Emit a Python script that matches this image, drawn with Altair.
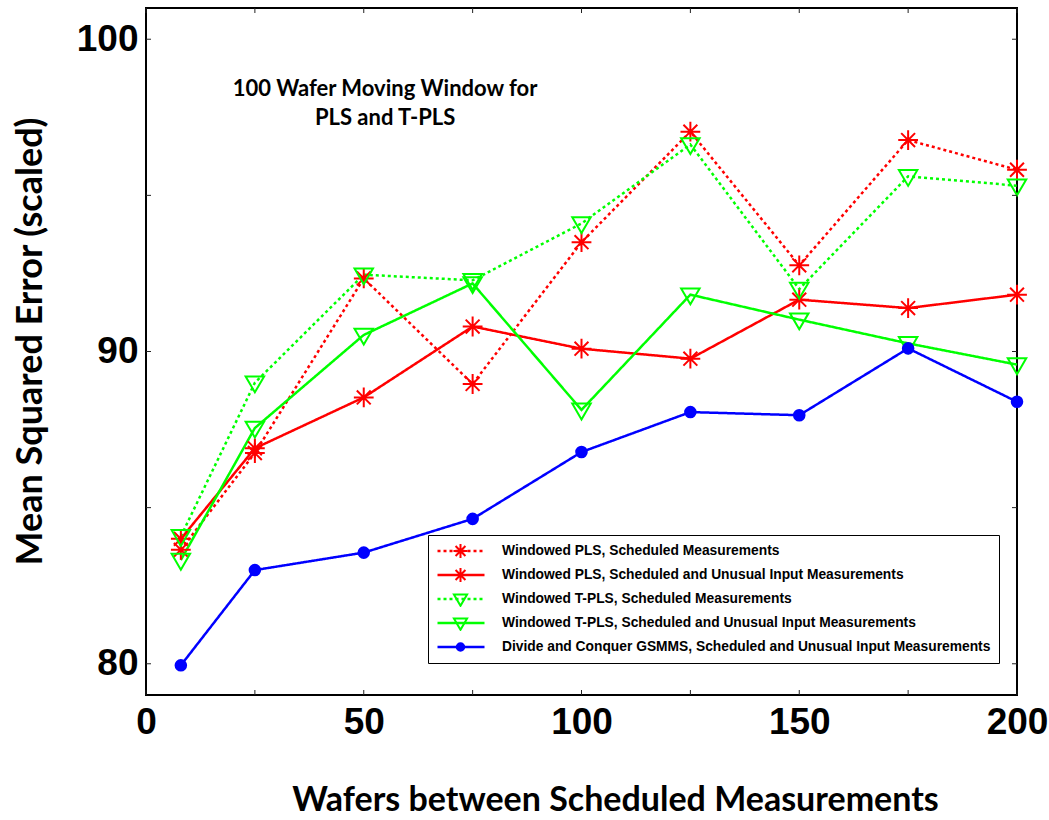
import altair as alt
import pandas as pd

# Wafers between scheduled measurements
wafers = [8, 25, 50, 75, 100, 125, 150, 175, 200]

# Scaled mean squared error for each method
pls_sched = [83.65, 86.75, 92.34, 88.96, 93.50, 97.04, 92.76, 96.77, 95.82]
pls_unusual = [84.00, 86.90, 88.53, 90.80, 90.09, 89.77, 91.66, 91.39, 91.82]
tpls_sched = [84.08, 89.00, 92.46, 92.28, 94.10, 96.63, 92.00, 95.61, 95.31]
tpls_unusual = [83.32, 87.55, 90.53, 92.18, 88.13, 91.82, 91.02, 90.26, 89.58]
gsmms = [79.95, 83.00, 83.56, 84.64, 86.78, 88.06, 87.96, 90.10, 88.39]

series_names = [
    "Windowed PLS, Scheduled Measurements",
    "Windowed PLS, Scheduled and Unusual Input Measurements",
    "Windowed T-PLS, Scheduled Measurements",
    "Windowed T-PLS, Scheduled and Unusual Input Measurements",
    "Divide and Conquer GSMMS, Scheduled and Unusual Input Measurements",
]
# short keys for the marker layer (its legend only supplies the glyphs)
marker_keys = ["pls_s", "pls_u", "tpls_s", "tpls_u", "gsmms"]
series_values = [pls_sched, pls_unusual, tpls_sched, tpls_unusual, gsmms]
series_colors = ["#FF0000", "#FF0000", "#00FF00", "#00FF00", "#0000FF"]
series_dashes = [[3, 3], [1, 0], [3, 3], [1, 0], [1, 0]]
series_fills = ["transparent", "transparent", "transparent", "transparent", "#0000FF"]

# marker glyphs (unit square path coordinates): asterisk, down triangle, dot
asterisk = ("M-0.3,0L0.3,0M0,-0.3L0,0.3"
            "M-0.21,-0.21L0.21,0.21M-0.21,0.21L0.21,-0.21")
tri_down = "M-0.28,-0.19L0.28,-0.19L0,0.29Z"
dot = "M-0.16,0A0.16,0.16,0,1,1,0.16,0A0.16,0.16,0,1,1,-0.16,0Z"
series_markers = [asterisk, asterisk, tri_down, tri_down, dot]

x_ticks = [0, 25, 50, 75, 100, 125, 150, 175, 200]
y_ticks = [80, 85, 90, 95, 100]
x_labels = [0, 50, 100, 150, 200]
y_labels = [80, 90, 100]

W, H = 871, 687
TICK = 5

rows = []
for name, key, vals in zip(series_names, marker_keys, series_values):
    for w, v in zip(wafers, vals):
        rows.append({"series": name, "marker": key, "wafers": w, "mse": v})
df = pd.DataFrame(rows)

x_scale = alt.Scale(domain=[0, 200], nice=False, zero=False)
y_scale = alt.Scale(domain=[79, 101], nice=False, zero=False)

TITLE_FONT = "Lato"
LABEL_FONT = "Liberation Sans"

x_axis = alt.Axis(
    values=x_labels, labelFont=LABEL_FONT, labelFontSize=37, labelFontWeight="bold",
    labelColor="black", labelPadding=9, labelFlush=False,
    titleFont=TITLE_FONT, titleFontSize=34, titleFontWeight="bold", titleColor="black",
    titleX=469, titleY=105, titleBaseline="middle", titleAlign="center",
)
y_axis = alt.Axis(
    values=y_labels, labelFont=LABEL_FONT, labelFontSize=37, labelFontWeight="bold",
    labelColor="black", labelPadding=8,
    titleFont=TITLE_FONT, titleFontSize=36, titleFontWeight="bold", titleColor="black",
    titleX=-116, titleY=333, titleBaseline="middle", titleAlign="center", titleAngle=270,
)

common_legend = dict(
    orient="none", legendX=282, legendY=527, title=None,
    symbolSize=2209, clipHeight=16, rowPadding=8, padding=8,
    labelFont=LABEL_FONT, labelFontSize=13.8, labelFontWeight="bold",
    labelLimit=700, labelOffset=16, labelColor="black",
)
line_legend = alt.Legend(symbolStrokeWidth=2.5, strokeColor="black", **common_legend)
marker_legend = alt.Legend(symbolStrokeWidth=2, labelExpr="''", **common_legend)

lines = alt.Chart(df).mark_line(strokeWidth=2.5).encode(
    x=alt.X("wafers:Q", scale=x_scale, axis=x_axis,
            title="Wafers between Scheduled Measurements"),
    y=alt.Y("mse:Q", scale=y_scale, axis=y_axis, title="Mean Squared Error (scaled)"),
    color=alt.Color("series:N", scale=alt.Scale(domain=series_names, range=series_colors),
                    legend=line_legend),
    strokeDash=alt.StrokeDash("series:N",
                              scale=alt.Scale(domain=series_names, range=series_dashes),
                              legend=line_legend),
)

points = alt.Chart(df).mark_point(opacity=1, strokeWidth=2, size=4356).encode(
    x=alt.X("wafers:Q", scale=x_scale),
    y=alt.Y("mse:Q", scale=y_scale),
    shape=alt.Shape("marker:N", scale=alt.Scale(domain=marker_keys, range=series_markers),
                    legend=marker_legend),
    stroke=alt.Stroke("marker:N", scale=alt.Scale(domain=marker_keys, range=series_colors),
                      legend=marker_legend),
    fill=alt.Fill("marker:N", scale=alt.Scale(domain=marker_keys, range=series_fills),
                  legend=marker_legend),
)

# inward tick marks on all four sides of the frame
yt = pd.DataFrame({"mse": y_ticks})
xt = pd.DataFrame({"wafers": x_ticks})
tick_style = dict(color="#222222", strokeWidth=1)
left_ticks = alt.Chart(yt).mark_rule(**tick_style).encode(
    y=alt.Y("mse:Q", scale=y_scale), x=alt.value(0), x2=alt.value(TICK))
right_ticks = alt.Chart(yt).mark_rule(**tick_style).encode(
    y=alt.Y("mse:Q", scale=y_scale), x=alt.value(W - TICK), x2=alt.value(W))
bottom_ticks = alt.Chart(xt).mark_rule(**tick_style).encode(
    x=alt.X("wafers:Q", scale=x_scale), y=alt.value(H - TICK), y2=alt.value(H))
top_ticks = alt.Chart(xt).mark_rule(**tick_style).encode(
    x=alt.X("wafers:Q", scale=x_scale), y=alt.value(0), y2=alt.value(TICK))

note = alt.Chart(pd.DataFrame({
    "wafers": [54.9], "mse": [98.4],
    "t": ["100 Wafer Moving Window for\nPLS and T-PLS"],
})).mark_text(
    font=TITLE_FONT, fontSize=22, fontWeight="bold", lineBreak="\n", lineHeight=29,
    align="center", baseline="middle", color="black",
).encode(
    x=alt.X("wafers:Q", scale=x_scale),
    y=alt.Y("mse:Q", scale=y_scale),
    text="t:N",
)

chart = alt.layer(
    lines, points, left_ticks, right_ticks, bottom_ticks, top_ticks, note
).properties(
    width=W, height=H,
    autosize=alt.AutoSizeParams(type="none"),
    padding={"left": 146, "top": 8, "right": 32, "bottom": 125},
    background="white",
).resolve_legend(
    color="independent", strokeDash="independent", shape="independent",
    stroke="independent", fill="independent",
).configure_view(
    stroke="black", strokeWidth=2,
).configure_axis(
    grid=False, domain=False, ticks=False,
)

chart.save("out.html", embed_options={"renderer": "svg", "actions": False})
